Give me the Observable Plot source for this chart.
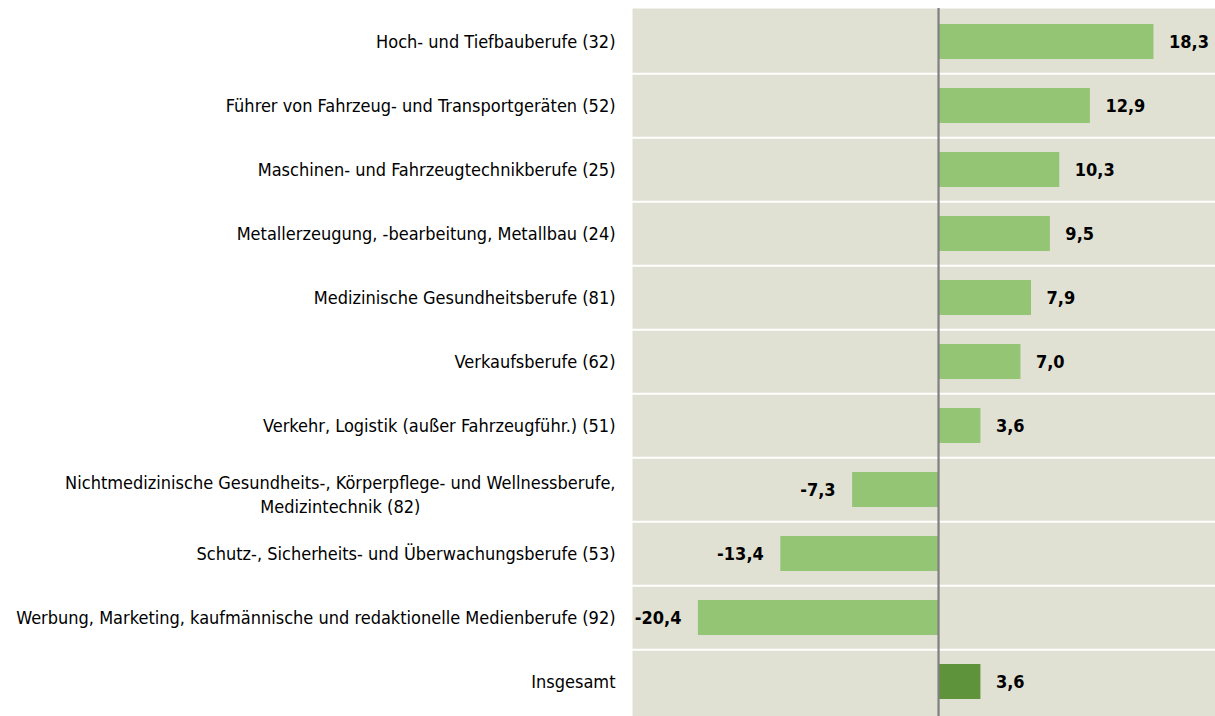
<!DOCTYPE html>
<html>
<head>
<meta charset="utf-8">
<script src="https://cdn.jsdelivr.net/npm/d3@7"></script>
<script src="https://cdn.jsdelivr.net/npm/@observablehq/plot@0.6"></script>
<style>
  html, body { margin: 0; padding: 0; background: #ffffff; }
  #chart { width: 1215px; height: 716px; }
</style>
</head>
<body>
<div id="chart"></div>
<script>
const categories = [
  "Hoch- und Tiefbauberufe (32)",
  "Führer von Fahrzeug- und Transportgeräten (52)",
  "Maschinen- und Fahrzeugtechnikberufe (25)",
  "Metallerzeugung, -bearbeitung, Metallbau (24)",
  "Medizinische Gesundheitsberufe (81)",
  "Verkaufsberufe (62)",
  "Verkehr, Logistik (außer Fahrzeugführ.) (51)",
  "Nichtmedizinische Gesundheits-, Körperpflege- und Wellnessberufe,\nMedizintechnik (82)",
  "Schutz-, Sicherheits- und Überwachungsberufe (53)",
  "Werbung, Marketing, kaufmännische und redaktionelle Medienberufe (92)",
  "Insgesamt"
];
const values = [18.3, 12.9, 10.3, 9.5, 7.9, 7.0, 3.6, -7.3, -13.4, -20.4, 3.6];
const isTotal = [false, false, false, false, false, false, false, false, false, false, true];

const data = categories.map((c, i) => ({cat: c, value: values[i], total: isTotal[i]}));

const FONT = "'DejaVu Sans Condensed', 'DejaVu Sans', sans-serif";
const FS = 18;
const fmt = v => v.toFixed(1).replace(".", ",");

const multi = categories.filter(c => c.includes("\n"));
const single = categories.filter(c => !c.includes("\n"));

const ctx = document.createElement("canvas").getContext("2d");
ctx.font = `${FS}px ${FONT}`;
const labelGap = 17;

const chartH = 716, chartTop = 8;
const step = (chartH - chartTop) / categories.length;

const chart = Plot.plot({
  width: 1215,
  height: chartH,
  marginLeft: 632,
  marginRight: 0,
  marginTop: chartTop,
  marginBottom: 0,
  style: {fontFamily: FONT, fontSize: FS + "px", background: "#ffffff", overflow: "visible"},
  x: {domain: [-26.0, 23.53], axis: null},
  y: {domain: categories, paddingInner: 0.45, paddingOuter: 0.225, axis: null},
  marks: [
    Plot.frame({fill: "#e0e1d3", stroke: null}),
    Plot.ruleY(categories.slice(1), {y: d => d, dy: -step / 2, stroke: "#ffffff", strokeWidth: 2}),
    Plot.barX(data, {
      y: "cat", x1: 0, x2: "value",
      fill: d => d.total ? "#5e933b" : "#93c574",
      inset: 0
    }),
    Plot.ruleX([0], {stroke: "#808080", strokeWidth: 2.2}),
    Plot.text(data.filter(d => d.value >= 0), {
      y: "cat", x: "value", text: d => fmt(d.value),
      textAnchor: "start", dx: 15, fontWeight: "bold", fontSize: FS, fill: "#000000"
    }),
    Plot.text(data.filter(d => d.value < 0), {
      y: "cat", x: "value", text: d => fmt(d.value),
      textAnchor: "end", dx: -17, fontWeight: "bold", fontSize: FS, fill: "#000000"
    }),
    Plot.text(single, {
      y: d => d, frameAnchor: "left", textAnchor: "end", dx: -labelGap,
      text: d => d, fill: "#000000", fontSize: FS
    }),
    Plot.text(multi, {
      y: d => d, frameAnchor: "left", textAnchor: "middle",
      dx: -labelGap - d3.max(multi[0].split("\n"), s => ctx.measureText(s).width) / 2,
      dy: 3,
      text: d => d, fill: "#000000", fontSize: FS, lineHeight: 1.35
    })
  ]
});
document.getElementById("chart").appendChild(chart);
</script>
</body>
</html>
